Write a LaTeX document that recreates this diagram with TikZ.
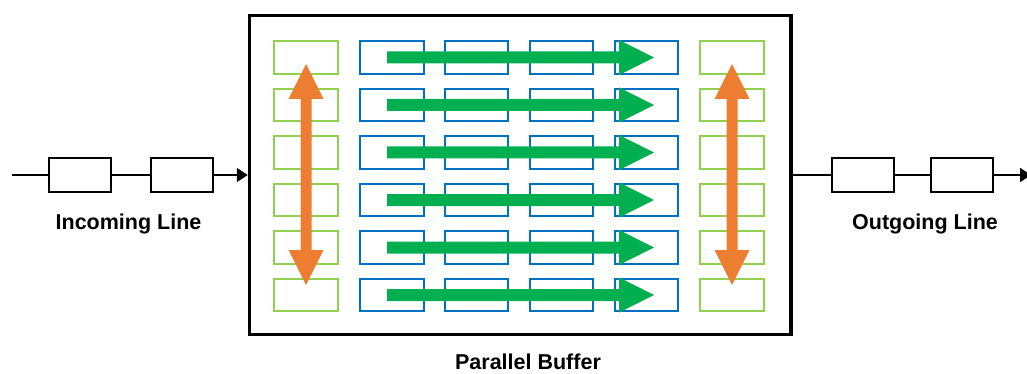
\documentclass[tikz,border=0pt]{standalone}
\usepackage{fontspec}
\setmainfont{Liberation Sans}
\usetikzlibrary{arrows.meta}
\definecolor{lgreen}{HTML}{92D050}
\definecolor{cblue}{HTML}{0070C0}
\definecolor{agreen}{HTML}{00B050}
\definecolor{aorange}{HTML}{ED7D31}
\tikzset{
  linebox/.style={draw=black, line width=2pt, fill=white, minimum width=62pt, minimum height=33pt, inner sep=0pt},
  gbox/.style={draw=lgreen, line width=2.4pt, minimum width=63.5pt, minimum height=32.5pt, inner sep=0pt},
  bbox/.style={draw=cblue, line width=2.4pt, minimum width=63.5pt, minimum height=32.5pt, inner sep=0pt},
  wire/.style={draw=black, line width=1.8pt},
  wirearrow/.style={wire, -{Triangle[length=11pt,width=14pt]}},
  lbl/.style={font=\bfseries\fontsize{21.5}{24}\selectfont, anchor=base, inner sep=0pt, text depth=0pt},
  fatg/.style={fill=agreen},
  fato/.style={fill=aorange}
}
\begin{document}
\begin{tikzpicture}[x=1pt,y=-1pt]
\useasboundingbox (0,0) rectangle (1027,374);
% main buffer
\node[draw=black, line width=3.5pt, minimum width=541.5pt, minimum height=319pt, inner sep=0pt] (buf) at (520.25,175) {};
% incoming line
\coordinate (inL) at (12,175);
\node[linebox] (in1) at (80,175) {};
\node[linebox] (in2) at (181.5,175) {};
\draw[wire] (inL) -- (in1);
\draw[wire] (in1) -- (in2);
\draw[wirearrow] (in2) -- (buf.west |- in2);
% outgoing line
\node[linebox] (out1) at (862.5,175) {};
\node[linebox] (out2) at (962,175) {};
\coordinate (outR) at (1031,175);
\draw[wire] (buf.east |- out1) -- (out1);
\draw[wire] (out1) -- (out2);
\draw[wirearrow] (out2) -- (outR);
% labels
\node[lbl] (linc) at (128.5,229) {Incoming Line};
\node[lbl] (lout) at (925,229) {Outgoing Line};
\node[lbl] (lbuf) at (528,369.5) {Parallel Buffer};
% cells
\foreach \r/\y in {1/57.5,2/105,3/152.5,4/200,5/247.5,6/295}{
  \node[gbox] (gl\r) at (306,\y) {};
  \node[gbox] (gr\r) at (732,\y) {};
  \foreach \c/\x in {1/392,2/476.5,3/561.5,4/646.5}{
    \node[bbox] (b\r\c) at (\x,\y) {};
  }
}
% green arrows
\foreach \y in {57.5,105,152.5,200,247.5,295}{
  \fill[fatg] (387,\y-6) -- (619,\y-6) -- (619,\y-17.5) -- (654,\y) -- (619,\y+17.5) -- (619,\y+6) -- (387,\y+6) -- cycle;
}
% orange arrows
\foreach \x in {306,732}{
  \fill[fato] (\x,64) -- (\x+17.5,99) -- (\x+5.5,99) -- (\x+5.5,250) -- (\x+17.5,250) -- (\x,285) -- (\x-17.5,250) -- (\x-5.5,250) -- (\x-5.5,99) -- (\x-17.5,99) -- cycle;
}
\end{tikzpicture}
\end{document}
